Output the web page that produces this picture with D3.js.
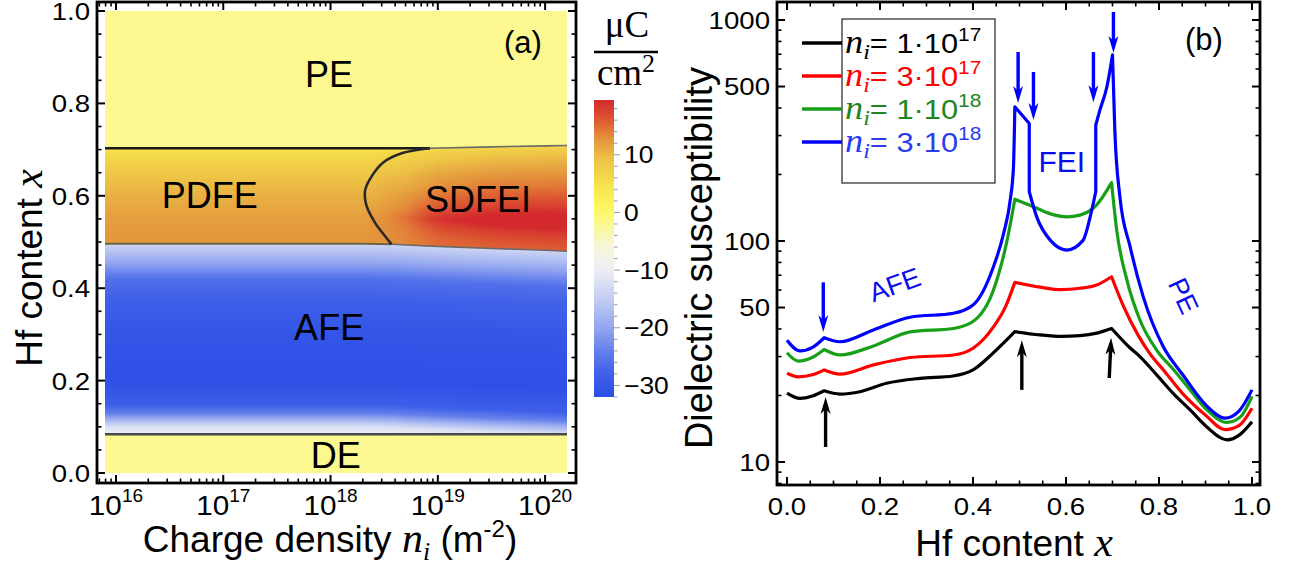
<!DOCTYPE html>
<html><head><meta charset="utf-8">
<script src="https://cdnjs.cloudflare.com/ajax/libs/d3/7.8.5/d3.min.js"></script>
<style>html,body{margin:0;padding:0;background:#fff;}svg{display:block;}</style>
</head><body><svg id="chart" width="1301" height="569"></svg>
<script>
// ================= DATA : panel (a) =================
const aNiFill = [7.9e15, 1.6e20];            // n_i range of the density plot
const aXFill = [0, 1];                       // Hf content range
const aNiTicks = [1e16, 1e17, 1e18, 1e19, 1e20];
const aNiTickExp = ['16', '17', '18', '19', '20'];
const aXTicks = [0, 0.2, 0.4, 0.6, 0.8, 1.0];
const aXTickLabels = ['0.0', '0.2', '0.4', '0.6', '0.8', '1.0'];
// polarization profile (µC/cm²) below the PDFE/AFE boundary
const afeX = [0, 0.084, 0.086, 0.1, 0.115, 0.13, 0.15, 0.2, 0.3, 0.38, 0.42, 0.45, 0.475, 0.49, 0.497];
const afeP = [-2, -2, -10, -12, -18, -24, -28.5, -31.5, -30.5, -28, -26, -21, -17, -15, -13];
// profile inside the PDFE band (mapped to 0.5..0.7)
const pdfeX = [0.5, 0.53, 0.56, 0.6, 0.64, 0.67, 0.69, 0.70];
const pdfeP = [12.5, 12.3, 11.8, 10.7, 9.0, 7.2, 5.5, 4.2];
const peP = -2;
// extra polarization of the SDFEI domain
const bumpLog = [18.3, 18.45, 18.7, 19.0, 19.5, 20.0, 20.25];
const bumpAmp = [0, 0.8, 3.0, 7.6, 10.2, 10.8, 11];
const bumpX = [0.5, 0.52, 0.535, 0.555, 0.585, 0.62, 0.65, 0.69, 0.70];
const bumpShape = [0.3, 0.42, 0.58, 0.9, 0.6, 0.42, 0.36, 0.25, 0.2];
// phase boundaries
const lineLog = [15.9, 18.3, 18.57, 18.93, 19.5, 20.0, 20.21];
const topLine = [0.703, 0.703, 0.703, 0.703, 0.706, 0.708, 0.709];
const bottomLine = [0.496, 0.496, 0.495, 0.491, 0.486, 0.482, 0.480];
const deLine = 0.084;
const sdfeiLog = [18.926, 18.677, 18.491, 18.367, 18.321, 18.336, 18.414, 18.507, 18.569];
const sdfeiX = [0.703, 0.693, 0.672, 0.636, 0.610, 0.578, 0.542, 0.513, 0.495];
const sdfeiTopLog = 18.926, sdfeiBotLog = 18.569;
// region labels
const aRegionLabels = ['PE', 'PDFE', 'SDFEI', 'AFE', 'DE'];
const aRegionNi = [9.7e17, 7.5e16, 2.37e19, 9.7e17, 1.12e18];
const aRegionX = [0.835, 0.574, 0.565, 0.288, 0.011];
// colour bar
const cbValues = [-32, -28, -24, -20, -15, -10, -6, -2, 0, 4, 6, 9, 11, 13, 15, 17, 19.5];
const cbColors = ['#2b4ee6', '#3f60e8', '#6580ec', '#93a6f0', '#c3cdf2', '#eceef4', '#f6f5dc', '#fbf890', '#fcf86a',
                  '#f7e84e', '#f3d94a', '#eec446', '#e8ac42', '#e3903b', '#e06a35', '#da4a30', '#d42a2e'];
const cbRange = [-32, 19.5];
const cbTicks = [10, 0, -10, -20, -30];

// ================= DATA : panel (b) =================
const bXTicks = [0, 0.2, 0.4, 0.6, 0.8, 1.0];
const bXTickLabels = ['0.0', '0.2', '0.4', '0.6', '0.8', '1.0'];
const bYTicks = [10, 50, 100, 500, 1000];
const legendCoef = ['1', '3', '1', '3'];
const legendExp = ['17', '17', '18', '18'];
const chi1e17 = [
  [[0, 20.5], [0.028, 19.4], [0.055, 19.9], [0.08, 21.0]],
  [[0.08, 21.0], [0.114, 20.3], [0.157, 20.8], [0.214, 22.7], [0.286, 23.9], [0.357, 24.5], [0.40, 26.1], [0.443, 31.1], [0.49, 38.9]],
  [[0.49, 38.9], [0.544, 37.6], [0.59, 37.0], [0.63, 37.3], [0.666, 38.3], [0.698, 40.2]],
  [[0.698, 40.2], [0.738, 32.8], [0.759, 30.0], [0.795, 24.8], [0.831, 20.4], [0.867, 17.2], [0.903, 14.4], [0.946, 12.6], [0.974, 13.3], [1.0, 15.2]]
];
const chi3e17 = [
  [[0, 25.2], [0.024, 24.3], [0.055, 24.8], [0.08, 26.1]],
  [[0.08, 26.1], [0.114, 25.0], [0.186, 27.5], [0.265, 29.7], [0.358, 30.5], [0.40, 32.7], [0.444, 40.9], [0.47, 50.5], [0.49, 65.0]],
  [[0.49, 65.0], [0.544, 61.8], [0.59, 60.2], [0.63, 61.1], [0.666, 63.2], [0.698, 68.9]],
  [[0.698, 68.9], [0.723, 51], [0.755, 37.5], [0.78, 31], [0.81, 26], [0.85, 20.5], [0.9, 16.3], [0.942, 14.0], [0.972, 14.6], [1.0, 17.5]]
];
const chi1e18 = [
  [[0, 31.2], [0.024, 28.6], [0.055, 29.8], [0.08, 32.3]],
  [[0.08, 32.3], [0.114, 30.5], [0.186, 33.5], [0.265, 38.8], [0.358, 40.2], [0.40, 43.2], [0.444, 60], [0.473, 100], [0.49, 154.6]],
  [[0.49, 154.6], [0.53, 142.9], [0.565, 133], [0.602, 128.6], [0.63, 131], [0.666, 145.6], [0.698, 183.6]],
  [[0.698, 183.6], [0.709, 112], [0.731, 66.5], [0.759, 43.9], [0.795, 32.1], [0.831, 26.2], [0.867, 21.2], [0.903, 17.2], [0.946, 15.1], [0.975, 16.0], [1.0, 19.8]]
];
const chi3e18 = [
  [[0, 35.6], [0.028, 31.8], [0.055, 33.0], [0.08, 36.5]],
  [[0.08, 36.5], [0.114, 35.0], [0.186, 39.6], [0.265, 45.2], [0.358, 47.1], [0.40, 51.3], [0.444, 76.5], [0.466, 108.5], [0.48, 153], [0.487, 216], [0.49, 405]],
  [[0.49, 405], [0.521, 340]],
  [[0.521, 340], [0.521, 167]],
  [[0.521, 167], [0.537, 128.6], [0.566, 100.9], [0.602, 91], [0.637, 100.9], [0.652, 128.6], [0.664, 167]],
  [[0.664, 167], [0.664, 335]],
  [[0.664, 335], [0.673, 392], [0.688, 499], [0.70, 695]],
  [[0.70, 695], [0.705, 318], [0.716, 158], [0.738, 94], [0.766, 56], [0.809, 33.3], [0.85, 25], [0.903, 17.9], [0.942, 15.8], [0.972, 17.0], [1.0, 21.2]]
];
const bSeries = [chi1e17, chi3e17, chi1e18, chi3e18];
// arrows: x, from value, to value
const blueArrowX = [0.078, 0.497, 0.530, 0.659, 0.702];
const blueArrowFrom = [65, 716, 582, 716, 1087];
const blueArrowTo = [38.7, 421, 353, 425, 709];
const blackArrowX = [0.083, 0.505, 0.693];
const blackArrowX2 = [0.083, 0.505, 0.697];
const blackArrowFrom = [11.7, 21.2, 24.0];
const blackArrowTo = [19.7, 35.6, 36.5];
const bLabels = ['AFE', 'FEI', 'PE'];
const bLabelX = [0.232, 0.591, 0.852];
const bLabelY = [63.2, 230, 56.4];
const bLabelAngle = [-20, 0, 65];

// ================= STYLE =================
const SANS = "'Liberation Sans', Arial, Helvetica, sans-serif";
const SERIF = "'Liberation Serif', 'Times New Roman', serif";
const seriesColors = ['#000000', '#ff0000', '#17a017', '#0000ff'];
const legendTextColors = ['#000000', '#ff0000', '#1f861f', '#2b3cf0'];
const ANN = '#0b0bf0';

const svg = d3.select('#chart');
svg.append('rect').attr('width', 1301).attr('height', 569).attr('fill', '#fff');

function T(g, x, y, o) {
  const tr = `translate(${x},${y})` + (o.rot ? ` rotate(${o.rot})` : '') + ` scale(${o.sx || 1},1)`;
  return g.append('text').attr('transform', tr)
    .attr('font-family', o.ff || SANS).attr('font-size', o.fs)
    .attr('text-anchor', o.anchor || 'start').attr('fill', o.fill || '#000')
    .attr('font-style', o.it ? 'italic' : null);
}

// ================= PANEL (a) =================
const xA = d3.scaleLog().domain(aNiFill).range([105, 567]);
const yA = d3.scaleLinear().domain(aXFill).range([473, 11]);
const fA = {x0: 97, x1: 576, y0: 2, y1: 483};

const color = d3.scaleLinear().domain(cbValues).range(cbColors).interpolate(d3.interpolateRgb).clamp(true);
const sAfe = d3.scaleLinear().domain(afeX).range(afeP).clamp(true);
const sPdfe = d3.scaleLinear().domain(pdfeX).range(pdfeP).clamp(true);
const sAmp = d3.scaleLinear().domain(bumpLog).range(bumpAmp).clamp(true);
const sShape = d3.scaleLinear().domain(bumpX).range(bumpShape).clamp(true);
const sTop = d3.scaleLinear().domain(lineLog).range(topLine).clamp(true);
const sBot = d3.scaleLinear().domain(lineLog).range(bottomLine).clamp(true);

function valueAt(lg, x) {
  const top = sTop(lg), bot = sBot(lg);
  if (x > top) return peP;
  if (x >= bot) {
    const xa = 0.5 + (x - bot) / (top - bot) * 0.2;
    return sPdfe(xa) + sAmp(lg) * sShape(xa);
  }
  if (x < deLine) return peP;
  return sAfe(Math.min(x + (0.497 - bot), 0.4969));
}
const lut = d3.range(1025).map(k => d3.rgb(color(cbRange[0] + (cbRange[1] - cbRange[0]) * k / 1024)));
(function drawMap() {
  const X0 = xA.range()[0], Y0 = yA.range()[1];
  const W = Math.round(xA.range()[1] - X0), H = Math.round(yA.range()[0] - Y0);
  const cv = document.createElement('canvas'); cv.width = W; cv.height = H;
  const ctx = cv.getContext('2d'); const img = ctx.createImageData(W, H);
  for (let j = 0; j < H; j++) {
    const x = yA.invert(Y0 + j + 0.5);
    for (let i = 0; i < W; i++) {
      const lg = Math.log10(xA.invert(X0 + i + 0.5));
      const v = valueAt(lg, x);
      let k = Math.round((v - cbRange[0]) / (cbRange[1] - cbRange[0]) * 1024);
      k = Math.max(0, Math.min(1024, k));
      const c = lut[k], p = (j * W + i) * 4;
      img.data[p] = c.r; img.data[p + 1] = c.g; img.data[p + 2] = c.b; img.data[p + 3] = 255;
    }
  }
  ctx.putImageData(img, 0, 0);
  svg.append('image').attr('x', X0).attr('y', Y0).attr('width', W).attr('height', H)
    .attr('preserveAspectRatio', 'none').attr('href', cv.toDataURL());
})();

const gA = svg.append('g');
const lineA = d3.line().x(d => xA(Math.pow(10, d[0]))).y(d => yA(d[1]));
function bandLine(scale, a, b) {
  const pts = [a, ...lineLog.filter(l => l > a && l < b), b].map(l => [l, scale(l)]);
  return lineA(pts);
}
const lgMin = Math.log10(aNiFill[0]), lgMax = Math.log10(aNiFill[1]);
gA.append('path').attr('d', bandLine(sTop, sdfeiTopLog, lgMax)).attr('fill', 'none').attr('stroke', '#6a6a6a').attr('stroke-width', 1.6);
gA.append('path').attr('d', bandLine(sBot, sdfeiBotLog, lgMax)).attr('fill', 'none').attr('stroke', '#6a6a6a').attr('stroke-width', 1.6);
gA.append('path').attr('d', bandLine(sTop, lgMin, sdfeiTopLog)).attr('fill', 'none').attr('stroke', '#1a1a1a').attr('stroke-width', 2.6);
gA.append('path').attr('d', bandLine(sBot, lgMin, sdfeiBotLog)).attr('fill', 'none').attr('stroke', '#6b6448').attr('stroke-width', 2);
gA.append('path').attr('d', lineA([[lgMin, deLine], [lgMax, deLine]])).attr('fill', 'none').attr('stroke', '#4a4a4a').attr('stroke-width', 2.6);
gA.append('path').attr('d', d3.line().x(d => xA(Math.pow(10, d[0]))).y(d => yA(d[1])).curve(d3.curveCatmullRom)(sdfeiLog.map((l, i) => [l, sdfeiX[i]])))
  .attr('fill', 'none').attr('stroke', '#2a2a2a').attr('stroke-width', 2.6);

aRegionLabels.forEach((s, i) => {
  T(gA, xA(aRegionNi[i]), yA(aRegionX[i]), {fs: 36, anchor: 'middle'}).text(s);
});
T(gA, 504, 53, {fs: 31}).text('(a)');

// frame + ticks
function frameTicks(g, f, xs, ys, xMaj, xMin, yMaj, yMin) {
  const add = (x1, y1, x2, y2, w) => g.append('line').attr('x1', x1).attr('y1', y1).attr('x2', x2).attr('y2', y2).attr('stroke', '#000').attr('stroke-width', w);
  xMaj.forEach(v => { const p = xs(v); add(p, f.y1, p, f.y1 - 8, 2); add(p, f.y0, p, f.y0 + 8, 2); });
  xMin.forEach(v => { const p = xs(v); add(p, f.y1, p, f.y1 - 4.5, 1.6); add(p, f.y0, p, f.y0 + 4.5, 1.6); });
  yMaj.forEach(v => { const p = ys(v); add(f.x0, p, f.x0 + 8, p, 2); add(f.x1, p, f.x1 - 8, p, 2); });
  yMin.forEach(v => { const p = ys(v); add(f.x0, p, f.x0 + 4.5, p, 1.6); add(f.x1, p, f.x1 - 4.5, p, 1.6); });
  g.append('rect').attr('x', f.x0).attr('y', f.y0).attr('width', f.x1 - f.x0).attr('height', f.y1 - f.y0)
    .attr('fill', 'none').attr('stroke', '#000').attr('stroke-width', 2.8);
}
const niLo = xA.invert(fA.x0), niHi = xA.invert(fA.x1);
const aNiMinor = [];
for (let k = 15; k <= 20; k++) for (let m = 2; m <= 9; m++) { const v = m * Math.pow(10, k); if (v > niLo && v < niHi) aNiMinor.push(v); }
const aXMinor = d3.range(0, 21).map(k => k * 0.05).filter((v, k) => k % 4 !== 0);
frameTicks(gA, fA, xA, yA, aNiTicks, aNiMinor, aXTicks, aXMinor);

aXTicks.forEach((v, i) => T(gA, 90, yA(v) + 9, {fs: 24, sx: 1.15, anchor: 'end'}).text(aXTickLabels[i]));
aNiTicks.forEach((v, i) => {
  const t = T(gA, xA(v), 515, {fs: 28, sx: 1.06, anchor: 'middle'});
  t.append('tspan').text('10');
  t.append('tspan').attr('font-size', 18).attr('dy', -13).text(aNiTickExp[i]);
});
(function () {
  const t = T(gA, 330, 552, {fs: 37, anchor: 'middle'});
  t.append('tspan').text('Charge density ');
  t.append('tspan').attr('font-family', SERIF).attr('font-style', 'italic').attr('font-size', 42).text('n');
  t.append('tspan').attr('font-family', SERIF).attr('font-style', 'italic').attr('font-size', 26).attr('dy', 8).text('i');
  t.append('tspan').attr('dy', -8).text(' (m');
  t.append('tspan').attr('font-size', 24).attr('dy', -15).text('-2');
  t.append('tspan').attr('dy', 15).text(')');
  const u = T(gA, 42, 268, {fs: 37, anchor: 'middle', rot: -90});
  u.append('tspan').text('Hf content ');
  u.append('tspan').attr('font-family', SERIF).attr('font-style', 'italic').attr('font-size', 42).text('x');
})();

// colour bar
const cbY = d3.scaleLinear().domain(cbRange).range([397, 100]);
const defs = svg.append('defs');
const grad = defs.append('linearGradient').attr('id', 'cbg').attr('x1', 0).attr('y1', 1).attr('x2', 0).attr('y2', 0);
cbValues.forEach((v, i) => grad.append('stop').attr('offset', (v - cbRange[0]) / (cbRange[1] - cbRange[0])).attr('stop-color', cbColors[i]));
svg.append('rect').attr('x', 594).attr('y', cbY(cbRange[1])).attr('width', 20).attr('height', cbY(cbRange[0]) - cbY(cbRange[1])).attr('fill', 'url(#cbg)');
d3.range(-32, 20, 2).forEach(v => {
  const major = v % 10 === 0;
  svg.append('line').attr('x1', 614).attr('x2', 614 + (major ? 6 : 3.5)).attr('y1', cbY(v)).attr('y2', cbY(v))
    .attr('stroke', '#9a9a9a').attr('stroke-width', 1);
});
cbTicks.forEach(v => T(svg, 624, cbY(v) + 8.5, {fs: 24, sx: 1.1}).text(v < 0 ? '\u2212' + Math.abs(v) : String(v)));
T(svg, 627, 37, {fs: 37, ff: SERIF, anchor: 'middle'}).text('\u03bcC');
svg.append('line').attr('x1', 594).attr('x2', 658).attr('y1', 52).attr('y2', 52).attr('stroke', '#000').attr('stroke-width', 2.6);
(function () {
  const t = T(svg, 626, 85, {fs: 37, ff: SERIF, anchor: 'middle'});
  t.append('tspan').text('cm');
  t.append('tspan').attr('font-size', 26).attr('dy', -13).text('2');
})();

// ================= PANEL (b) =================
const xB = d3.scaleLinear().domain([0, 1]).range([787, 1252]);
const yB = d3.scaleLog().domain([10, 1000]).range([462, 20]);
const fB = {x0: 777, x1: 1260, y0: 2, y1: 485};
const gB = svg.append('g');
defs.append('clipPath').attr('id', 'clipB').append('rect').attr('x', fB.x0).attr('y', fB.y0).attr('width', fB.x1 - fB.x0).attr('height', fB.y1 - fB.y0);

function seriesPath(segs) {
  let d = '';
  segs.forEach((pts, k) => {
    const gen = d3.line().x(p => xB(p[0])).y(p => yB(p[1])).curve(pts.length > 2 ? d3.curveMonotoneX : d3.curveLinear);
    const s = gen(pts);
    d += k === 0 ? s : s.replace(/^M/, 'L');
  });
  return d;
}
const gCurves = gB.append('g').attr('clip-path', 'url(#clipB)');
bSeries.forEach((segs, i) => {
  gCurves.append('path').attr('d', seriesPath(segs)).attr('fill', 'none')
    .attr('stroke', seriesColors[i]).attr('stroke-width', 3.2).attr('stroke-linejoin', 'round');
});

function arrow(g, xFrom, xTo, vFrom, vTo, col) {
  const x0 = xB(xFrom), x1 = xB(xTo), p0 = yB(vFrom), p1 = yB(vTo);
  const dx = x1 - x0, dy = p1 - p0, L = Math.hypot(dx, dy), ux = dx / L, uy = dy / L;
  const hl = 17, hw = 5;
  g.append('line').attr('x1', x0).attr('y1', p0).attr('x2', x1 - ux * hl * 0.7).attr('y2', p1 - uy * hl * 0.7)
    .attr('stroke', col).attr('stroke-width', 3.4);
  const bx = x1 - ux * hl, by = p1 - uy * hl, nx = -uy, ny = ux;
  g.append('path').attr('d', `M${x1},${p1}L${bx + nx * hw},${by + ny * hw}L${x1 - ux * hl * 0.72},${p1 - uy * hl * 0.72}L${bx - nx * hw},${by - ny * hw}Z`).attr('fill', col);
}
blueArrowX.forEach((x, i) => arrow(gB, x, x, blueArrowFrom[i], blueArrowTo[i], '#0000ff'));
blackArrowX.forEach((x, i) => arrow(gB, x, blackArrowX2[i], blackArrowFrom[i], blackArrowTo[i], '#000'));

bLabels.forEach((s, i) => {
  T(gB, xB(bLabelX[i]), yB(bLabelY[i]), {fs: i === 1 ? 30 : 27, anchor: 'middle', rot: bLabelAngle[i], fill: ANN})
    .attr('dominant-baseline', 'central').text(s);
});
T(gB, 1185, 50, {fs: 31}).text('(b)');

// legend
gB.append('rect').attr('x', 842).attr('y', 19).attr('width', 153).attr('height', 164)
  .attr('fill', '#fff').attr('stroke', '#333').attr('stroke-width', 1.3);
legendCoef.forEach((c, i) => {
  const base = 53 + i * 33;
  gB.append('line').attr('x1', 802).attr('x2', 842).attr('y1', base - 10).attr('y2', base - 10)
    .attr('stroke', seriesColors[i]).attr('stroke-width', 3.4);
  const t = T(gB, 845, base, {fs: 28, sx: 1.1, fill: legendTextColors[i]});
  t.append('tspan').attr('font-family', SERIF).attr('font-style', 'italic').attr('font-size', 33).text('n');
  t.append('tspan').attr('font-family', SERIF).attr('font-style', 'italic').attr('font-size', 22).attr('dy', 6).text('i');
  t.append('tspan').attr('dy', -6).text('= ' + c + '\u00b710');
  t.append('tspan').attr('font-size', 19).attr('dy', -12).text(legendExp[i]);
});

const bYMinor = [];
for (let k = 0; k <= 3; k++) for (let m = 2; m <= 9; m++) {
  const v = m * Math.pow(10, k);
  if (v > yB.invert(fB.y1) && v < yB.invert(fB.y0) && !bYTicks.includes(v)) bYMinor.push(v);
}
const bXMinor = d3.range(0, 21).map(k => k * 0.05).filter((v, k) => k % 4 !== 0);
frameTicks(gB, fB, xB, yB, bXTicks, bXMinor, bYTicks, bYMinor);
bXTicks.forEach((v, i) => T(gB, xB(v), 515, {fs: 24, sx: 1.15, anchor: 'middle'}).text(bXTickLabels[i]));
bYTicks.forEach(v => T(gB, 770, yB(v) + 8.5, {fs: 24, sx: 1.15, anchor: 'end'}).text(String(v)));
(function () {
  const t = T(gB, 1014, 556, {fs: 37, anchor: 'middle'});
  t.append('tspan').text('Hf content ');
  t.append('tspan').attr('font-family', SERIF).attr('font-style', 'italic').attr('font-size', 42).text('x');
  T(gB, 712, 258, {fs: 38, anchor: 'middle', rot: -90}).text('Dielectric susceptibility');
})();
</script></body></html>
